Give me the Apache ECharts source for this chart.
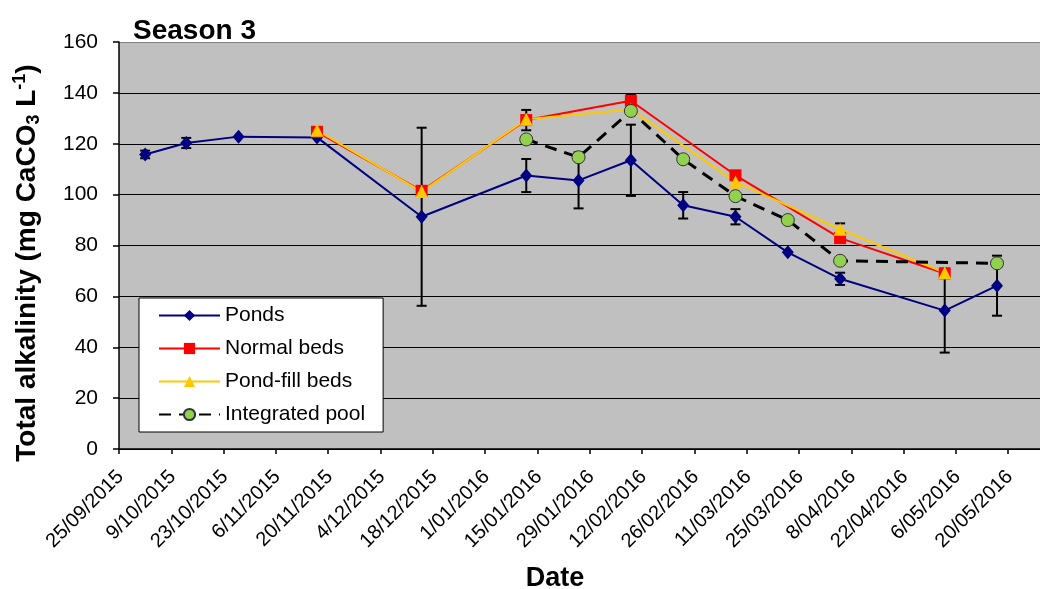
<!DOCTYPE html>
<html>
<head>
<meta charset="utf-8">
<title>Season 3 – Total alkalinity</title>
<script src="https://cdn.jsdelivr.net/npm/echarts@6/dist/echarts.min.js"></script>
<style>
  html, body { margin: 0; padding: 0; background: #fff; overflow: hidden; }
  #chart { width: 1040px; height: 589px; }
</style>
</head>
<body>
<div id="chart"></div>
<script>
// Sampling dates and measured total alkalinity (mg CaCO3 per litre)
const pondDates = ['2015-10-02', '2015-10-13', '2015-10-27', '2015-11-17', '2015-12-15',
  '2016-01-12', '2016-01-26', '2016-02-09', '2016-02-23', '2016-03-08',
  '2016-03-22', '2016-04-05', '2016-05-03', '2016-05-17'];
const pondValues = [115.8, 120.3, 122.8, 122.5, 91.3, 107.5, 105.6, 113.5, 95.8, 91.3, 77.3, 66.9, 54.4, 64.2];
const pondErrors = [1.5, 2, 0, 0, 35, 6.5, 11, 14, 5.2, 3, 0, 2.4, 16.5, 11.8];

const bedDates = ['2015-11-17', '2015-12-15', '2016-01-12', '2016-02-09', '2016-03-08', '2016-04-05', '2016-05-03'];
const normalBedValues = [124.7, 101.5, 129.3, 136.9, 107.6, 82.9, 69.0];
const normalBedErrors = [0, 0, 4, 2.6, 0, 0, 0];
const pondFillBedValues = [125.3, 101.2, 129.6, 133.5, 105.0, 86.4, 69.3];
const pondFillBedErrors = [0, 0, 0, 0, 0, 2.3, 0];

const poolDates = ['2016-01-12', '2016-01-26', '2016-02-09', '2016-02-23', '2016-03-08', '2016-03-22', '2016-04-05', '2016-05-17'];
const poolValues = [121.7, 114.7, 132.9, 113.9, 99.4, 90.0, 74.0, 73.0];

// Axis settings
const axisStartDate = '2015-09-25';
const axisEndDay = 246.5;     // days after the start date
const dateStepDays = 14;
const yTicks = [0, 20, 40, 60, 80, 100, 120, 140, 160];

const FONT = '"Liberation Sans", Arial, Helvetica, sans-serif';
const DAY_MS = 86400000;
const START_MS = Date.parse(axisStartDate + 'T00:00:00Z');
const dayOf = s => (Date.parse(s + 'T00:00:00Z') - START_MS) / DAY_MS;

function formatDay(v) {
  if (Math.abs(v % dateStepDays) > 1e-6) return '';
  const d = new Date(START_MS + v * DAY_MS);
  const mm = String(d.getUTCMonth() + 1).padStart(2, '0');
  return d.getUTCDate() + '/' + mm + '/' + d.getUTCFullYear();
}

function pairs(dates, values) {
  return dates.map((s, i) => [dayOf(s), values[i]]);
}
function errorRows(dates, values, errors) {
  const rows = [];
  dates.forEach((s, i) => {
    if (errors[i] > 0) rows.push([dayOf(s), values[i] - errors[i], values[i] + errors[i]]);
  });
  return rows;
}

// Vertical error bar with short caps
function renderErrorBar(params, api) {
  const x = api.value(0);
  const lo = api.coord([x, api.value(1)]);
  const hi = api.coord([x, api.value(2)]);
  const half = 5;
  const style = { stroke: '#000', lineWidth: 2 };
  return {
    type: 'group',
    children: [
      { type: 'line', shape: { x1: lo[0], y1: lo[1], x2: hi[0], y2: hi[1] }, style },
      { type: 'line', shape: { x1: lo[0] - half, y1: lo[1], x2: lo[0] + half, y2: lo[1] }, style },
      { type: 'line', shape: { x1: hi[0] - half, y1: hi[1], x2: hi[0] + half, y2: hi[1] }, style }
    ]
  };
}
function errorSeries(name, rows) {
  return {
    name: name,
    type: 'custom',
    renderItem: renderErrorBar,
    data: rows,
    encode: { x: 0, y: [1, 2] },
    clip: false,
    silent: true
  };
}

const splitColors = yTicks.map(v => v === yTicks[yTicks.length - 1] ? '#808080' : '#000');

const chart = echarts.init(document.getElementById('chart'), null, { renderer: 'canvas' });
chart.setOption({
  animation: false,
  backgroundColor: '#fff',
  textStyle: { fontFamily: FONT, color: '#000' },
  title: {
    text: 'Season 3',
    left: 128,
    top: 12,
    textStyle: { fontFamily: FONT, fontSize: 28, fontWeight: 'bold', color: '#000' }
  },
  grid: {
    left: 119, right: 0, top: 42, bottom: 140,
    outerBoundsMode: 'none',
    containLabel: false,
    show: true, backgroundColor: '#C0C0C0', borderWidth: 0
  },
  legend: {
    data: ['Ponds', 'Normal beds', 'Pond-fill beds', 'Integrated pool'],
    orient: 'vertical',
    left: 139,
    top: 298,
    padding: [7, 18, 7, 19],
    itemWidth: 61,
    itemHeight: 14,
    itemGap: 12,
    backgroundColor: '#fff',
    borderColor: '#000',
    borderWidth: 1,
    borderRadius: 0,
    textStyle: { fontFamily: FONT, fontSize: 21, color: '#000', lineHeight: 20 }
  },
  xAxis: {
    type: 'value',
    min: 0,
    max: axisEndDay,
    interval: dateStepDays,
    name: 'Date',
    nameLocation: 'middle',
    nameGap: 116,
    nameTextStyle: { fontFamily: FONT, fontSize: 27, fontWeight: 'bold', color: '#000', lineHeight: 27, padding: [0, 49, 0, 0] },
    axisLine: { onZero: false, lineStyle: { color: '#000', width: 1.5 } },
    axisTick: { show: true, inside: false, length: 5, lineStyle: { color: '#000', width: 1.5 } },
    splitLine: { show: false },
    axisLabel: {
      rotate: 45,
      margin: 12,
      verticalAlign: 'top',
      padding: [0, 8, 0, 0],
      fontFamily: FONT,
      fontSize: 20,
      color: '#000',
      showMaxLabel: false,
      formatter: formatDay
    }
  },
  yAxis: {
    type: 'value',
    min: yTicks[0],
    max: yTicks[yTicks.length - 1],
    interval: yTicks[1] - yTicks[0],
    name: '{t|Total alkalinity (mg CaCO}{sub|3}{t| L}{sup|-1}{t|)}',
    nameLocation: 'middle',
    nameGap: 76,
    nameTextStyle: {
      padding: [0, 35, 0, 0],
      rich: {
        t: { fontFamily: FONT, fontSize: 28, fontWeight: 'bold', color: '#000', lineHeight: 32 },
        sub: { fontFamily: FONT, fontSize: 18, fontWeight: 'bold', color: '#000', verticalAlign: 'bottom', lineHeight: 32 },
        sup: { fontFamily: FONT, fontSize: 18, fontWeight: 'bold', color: '#000', verticalAlign: 'top', lineHeight: 32 }
      }
    },
    axisLine: { show: true, lineStyle: { color: '#000', width: 1.5 } },
    axisTick: { show: true, inside: false, length: 6, lineStyle: { color: '#000', width: 1.5 } },
    axisLabel: { margin: 21, fontFamily: FONT, fontSize: 21, color: '#000', formatter: v => yTicks.includes(v) ? String(v) : '' },
    splitLine: { show: true, lineStyle: { color: splitColors, width: 1.2 } }
  },
  series: [
    {
      name: 'Ponds',
      type: 'line',
      data: pairs(pondDates, pondValues),
      symbol: 'diamond',
      symbolSize: [12, 14],
      lineStyle: { color: '#000080', width: 2 },
      itemStyle: { color: '#000080' },
      clip: false
    },
    errorSeries('Ponds error', errorRows(pondDates, pondValues, pondErrors)),
    {
      name: 'Normal beds',
      type: 'line',
      data: pairs(bedDates, normalBedValues),
      symbol: 'rect',
      symbolSize: 12,
      lineStyle: { color: '#FF0000', width: 2 },
      itemStyle: { color: '#FF0000' },
      clip: false
    },
    errorSeries('Normal beds error', errorRows(bedDates, normalBedValues, normalBedErrors)),
    {
      name: 'Pond-fill beds',
      type: 'line',
      data: pairs(bedDates, pondFillBedValues),
      symbol: 'triangle',
      symbolSize: 13,
      lineStyle: { color: '#FFC800', width: 2 },
      itemStyle: { color: '#FFC800' },
      clip: false
    },
    errorSeries('Pond-fill beds error', errorRows(bedDates, pondFillBedValues, pondFillBedErrors)),
    {
      name: 'Integrated pool',
      type: 'line',
      data: pairs(poolDates, poolValues),
      symbol: 'circle',
      symbolSize: 13,
      lineStyle: { color: '#000', width: 3, type: [12, 8] },
      itemStyle: { color: '#92D050', borderColor: '#333', borderWidth: 1 },
      clip: false
    }
  ]
});
</script>
</body>
</html>
